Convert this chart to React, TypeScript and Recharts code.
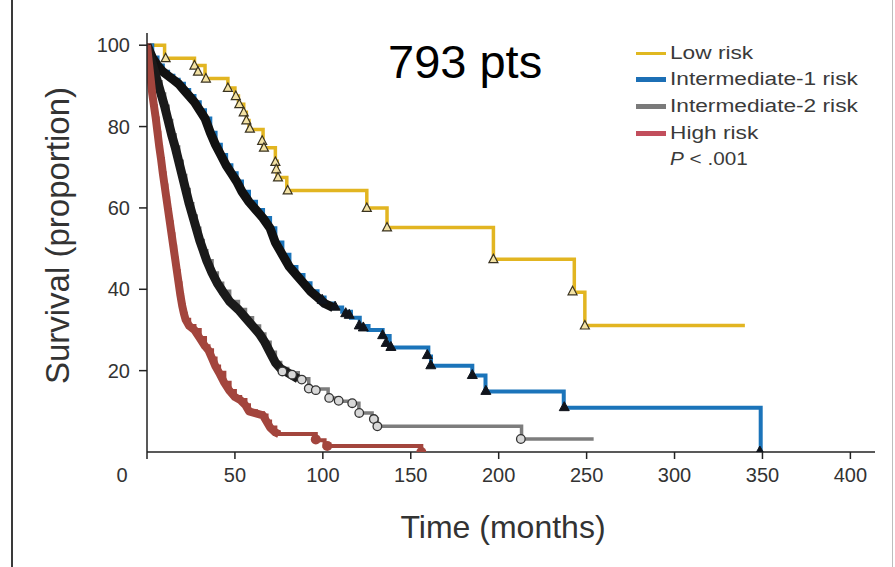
import React from "react";
import { ComposedChart, Line, XAxis, YAxis, Label } from "recharts";

type Pt = { t: number; s: number };
const mk = (a: number[][]): Pt[] => a.map(([t, s]) => ({ t, s }));

// ---- data (time in months, survival %) ----
const lowRisk = mk([
  [0, 100], [10, 96.8], [27, 95], [33, 91.8], [46, 89.5], [50, 87.5], [52, 85.5], [55, 83.5],
  [56.5, 81.5], [58, 79.3], [66, 74.8], [73, 71.5], [74, 67.5], [79.5, 64.3], [125, 60],
  [136.5, 55.2], [197, 47.4], [243, 39.3], [249, 31.1], [340, 31.1],
]);
const lowCensor = mk([
  [10.6, 96.8], [27, 95], [29, 93.5], [33.5, 91.8], [46, 89.5], [50.5, 87.5], [52.5, 85.5],
  [55, 83.5], [56.5, 81.5], [58.5, 79.5], [65.5, 76.5], [66.5, 74.8], [73, 71.3], [73.5, 69.5],
  [74.5, 67.5], [80, 64.3], [125, 60], [136.5, 55.2], [197, 47.4], [242, 39.5], [249, 31.1],
]);

const int1Risk = mk([
  [0, 100], [3, 97], [6, 95], [9, 93.5], [12, 92.5], [15, 91.5], [18, 90.5], [21, 89], [24, 87.5],
  [27, 86], [30, 84], [33, 82], [36, 78.5], [39, 75.5], [42, 73], [45, 70.5], [48, 68.5],
  [51, 66.5], [54, 64], [58, 61.5], [62, 59.5], [66, 57.5], [70, 55], [73, 51.5], [77, 48.5],
  [81, 45.5], [85, 43.5], [89, 41.5], [93, 39.5], [97, 38], [101, 36.5], [106, 35.5], [111, 34.5],
  [116, 33], [121, 31], [126, 30], [134, 28.5], [138, 25.7], [160, 23.5], [161.5, 21.2],
  [185, 18.8], [192.5, 14.9], [237, 10.9], [349, 0],
]);
const int1Censor = mk([
  [99.6, 37.3], [107, 35.6], [113, 34], [115, 33.6], [120.7, 31], [123, 30.5], [134, 28.6],
  [136, 26.7], [138.7, 25.7], [159.4, 23.7], [161.4, 21.2], [185, 18.8], [192.7, 14.9],
  [237.3, 10.9], [348.5, 0],
]);

const int2Risk = mk([
  [0, 100], [2, 97], [4, 94], [6, 91], [8, 88], [10, 85], [12, 81.5], [14, 78], [16, 75],
  [18, 71.5], [20, 68], [22, 64.5], [24, 61], [26, 58], [28, 55], [30, 52], [32, 49.5], [34, 47],
  [37, 44], [40, 41.5], [43, 39.5], [47, 37], [52, 35], [56, 33], [60, 31], [64, 29], [67, 27],
  [70, 24.5], [73, 22], [76, 20.5], [80, 19.5], [86, 18], [92, 15.5], [103, 13.3], [109, 12.5],
  [117, 12], [120.5, 9.6], [128, 8.1], [131, 6.3], [213, 3.2], [254, 3.2],
]);
const int2Censor = mk([
  [77, 19.8], [82.5, 19], [88, 17.8], [92, 15.6], [96, 15.2], [103.6, 13.3], [109, 12.6],
  [116.7, 12], [120.7, 9.6], [129, 8.1], [131, 6.3], [212.6, 3.2],
]);

const highRisk = mk([
  [0, 100], [1, 96], [2, 92], [3, 88], [4, 85], [5, 82], [6, 78.5], [7, 75], [8, 72], [9, 68.5],
  [10, 65.5], [11, 62.5], [12, 59.5], [13, 56.5], [14, 53.5], [15, 50.5], [16, 47.5], [17, 44.5],
  [18, 41.5], [19, 38.5], [20, 36], [21, 34], [22, 32.5], [24, 31], [27, 30], [30, 28], [33, 26],
  [35, 25], [37, 23], [39, 21], [41, 19.5], [44, 17], [47, 15], [50, 13.5], [53, 12.8], [56, 11.5],
  [58, 10], [62, 9.5], [66, 9], [68, 7.5], [70, 6], [73, 4.8], [75, 4.4], [96, 2.9], [101, 1.5],
  [156, 0],
]);
const highCensor = mk([[96, 3.1], [102.5, 1.5], [156, 0]]);

const xTicks = [0, 50, 100, 150, 200, 250, 300, 350, 400];
const yTicks = [20, 40, 60, 80, 100];
const seriesNames = ["Low risk", "Intermediate-1 risk", "Intermediate-2 risk", "High risk"];
const seriesColors = ["#e2b521", "#1b74ba", "#7d7d7d", "#a3453d"];
const legendSwatch = ["#e0b820", "#1c6fb5", "#7a7a7a", "#c24e5c"];
const pLabel = "< .001";
const titleText = "793 pts";
const xTitle = "Time (months)";
const yTitle = "Survival (proportion)";

const FONT = "'Liberation Sans', Arial, Helvetica, sans-serif";

// ---- marker shapes ----
const OpenTri = (p: any) => {
  const { cx, cy, index } = p;
  if (cx == null || cy == null) return <g key={`lt${index}`} />;
  return (
    <path key={`lt${index}`} d={`M${cx},${cy - 5} L${cx - 4.5},${cy + 3.5} L${cx + 4.5},${cy + 3.5} Z`}
      fill="#f3e2a4" stroke="#3a3320" strokeWidth={1.2} />
  );
};
const FillTri = (p: any) => {
  const { cx, cy, index } = p;
  if (cx == null || cy == null) return <g key={`bt${index}`} />;
  return (
    <path key={`bt${index}`} d={`M${cx},${cy - 6} L${cx - 5},${cy + 3} L${cx + 5},${cy + 3} Z`}
      fill="#10141c" stroke="#10141c" strokeWidth={1} />
  );
};
const OpenCirc = (p: any) => {
  const { cx, cy, index } = p;
  if (cx == null || cy == null) return <g key={`gc${index}`} />;
  return <circle key={`gc${index}`} cx={cx} cy={cy} r={4.3} fill="#d8d8d8" stroke="#333" strokeWidth={1.3} />;
};
const RedDot = (p: any) => {
  const { cx, cy, index } = p;
  if (cx == null || cy == null) return <g key={`rd${index}`} />;
  return <circle key={`rd${index}`} cx={cx} cy={cy} r={5} fill="#a3453d" />;
};

const XTick = (p: any) => {
  const { x, y, payload } = p;
  const dx = payload.value === 0 ? -25 : 0;
  return (
    <text x={x + dx} y={y} dy="0.72em" textAnchor="middle" fontSize={20} fill="#333" fontFamily={FONT}>
      {payload.value}
    </text>
  );
};

const renderXTitle = (p: any) => {
  const vb = p.viewBox;
  return (
    <text x={vb.x + vb.width / 2 - 8} y={vb.y + 86} textAnchor="middle" fontSize={32} fill="#333" fontFamily={FONT}>
      {xTitle}
    </text>
  );
};
const renderYTitle = (p: any) => {
  const vb = p.viewBox;
  const cx = vb.x + 57;
  const cy = vb.y + vb.height / 2 - 7;
  return (
    <text x={cx} y={cy} transform={`rotate(-90, ${cx}, ${cy})`} textAnchor="middle" dominantBaseline="central"
      fontSize={33} fill="#333" fontFamily={FONT}>
      {yTitle}
    </text>
  );
};

const lines: { data: Pt[]; color: string; width: number }[] = [
  { data: lowRisk, color: seriesColors[0], width: 3.5 },
  { data: int1Risk, color: seriesColors[1], width: 4 },
  { data: int2Risk, color: seriesColors[2], width: 3.5 },
  { data: highRisk, color: seriesColors[3], width: 4 },
];

export default function App() {
  return (
    <div style={{ position: "absolute", left: 0, top: 0, width: 895, height: 567, background: "#fff", fontFamily: FONT }}>
      <div style={{ position: "absolute", left: 11, top: 0, width: 2, height: 567, background: "#3a3a3a" }} />
      <div style={{ position: "absolute", left: 892, top: 0, width: 1, height: 567, background: "#bdbdbd" }} />
      <ComposedChart width={895} height={567} margin={{ top: 33, right: 20, bottom: 5, left: 0 }}>
        <XAxis
          type="number"
          dataKey="t"
          domain={[0, 414]}
          ticks={xTicks}
          allowDataOverflow
          height={110}
          tickSize={7}
          tickMargin={9}
          tick={<XTick />}
          stroke="#222"
          strokeWidth={1.5}
        >
          <Label content={renderXTitle} />
        </XAxis>
        <YAxis
          type="number"
          dataKey="s"
          domain={[0, 103]}
          ticks={yTicks}
          allowDataOverflow
          width={147}
          tickSize={8}
          tickMargin={9}
          tick={{ fontSize: 20, fill: "#333", fontFamily: FONT }}
          stroke="#222"
          strokeWidth={1.5}
        >
          <Label content={renderYTitle} />
        </YAxis>
        {lines.map((l, i) => (
          <Line key={`l${i}`} data={l.data} dataKey="s" type="stepAfter" stroke={l.color} strokeWidth={l.width}
            dot={false} activeDot={false} isAnimationActive={false} />
        ))}
        <Line data={int1Risk.filter((d) => d.t <= 106)} dataKey="s" type="linear" stroke="#111111"
          strokeWidth={9} strokeLinejoin="round" dot={false} activeDot={false} isAnimationActive={false} />
        <Line data={int2Risk.filter((d) => d.t <= 88)} dataKey="s" type="linear" stroke="#1a1a1a"
          strokeWidth={9} strokeLinejoin="round" dot={false} activeDot={false} isAnimationActive={false} />
        <Line data={highRisk.filter((d) => d.t <= 75)} dataKey="s" type="linear" stroke={seriesColors[3]}
          strokeWidth={8} strokeLinejoin="round" dot={false} activeDot={false} isAnimationActive={false} />
        <Line data={lowCensor} dataKey="s" stroke="none" dot={<OpenTri />} activeDot={false} isAnimationActive={false} />
        <Line data={int1Censor} dataKey="s" stroke="none" dot={<FillTri />} activeDot={false} isAnimationActive={false} />
        <Line data={int2Censor} dataKey="s" stroke="none" dot={<OpenCirc />} activeDot={false} isAnimationActive={false} />
        <Line data={highCensor} dataKey="s" stroke="none" dot={<RedDot />} activeDot={false} isAnimationActive={false} />
      </ComposedChart>
      <div style={{ position: "absolute", left: 388, top: 39, fontSize: 47, lineHeight: "46px", color: "#000", whiteSpace: "nowrap" }}>
        {titleText}
      </div>
      {seriesNames.map((n, i) => (
        <div key={n} style={{ position: "absolute", left: 636, top: 40 + 26.6 * i, height: 26.6, display: "flex", alignItems: "center", whiteSpace: "nowrap" }}>
          <div style={{ width: 30, height: i === 0 ? 3 : 5, background: legendSwatch[i] }} />
          <span style={{ marginLeft: 4, fontSize: 18, color: "#3a3a3a", display: "inline-block", transform: "scaleX(1.26)", transformOrigin: "left center" }}>{n}</span>
        </div>
      ))}
      <div style={{ position: "absolute", left: 670, top: 40 + 26.6 * 4, height: 26.6, display: "flex", alignItems: "center", whiteSpace: "nowrap" }}>
        <span style={{ fontSize: 18, color: "#3a3a3a", display: "inline-block", transform: "scaleX(1.15)", transformOrigin: "left center" }}>
          <i>P</i> {pLabel}
        </span>
      </div>
    </div>
  );
}
